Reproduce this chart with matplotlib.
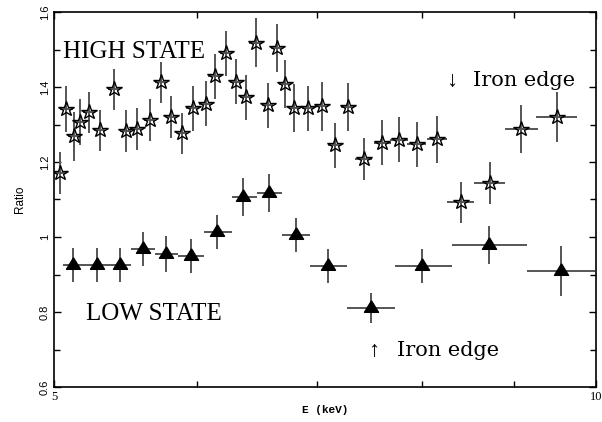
import numpy as np
import matplotlib.pyplot as plt
from matplotlib.ticker import FixedLocator, NullFormatter, FixedFormatter

# HIGH STATE (gwiazdki)
hi_e = [5.04, 5.08, 5.13, 5.17, 5.23, 5.30, 5.40, 5.48, 5.56, 5.65,
        5.73, 5.81, 5.89, 5.97, 6.07, 6.14, 6.23, 6.31, 6.39, 6.47,
        6.57, 6.65, 6.72, 6.80, 6.92, 7.04, 7.16, 7.28, 7.43, 7.61,
        7.77, 7.95, 8.16, 8.41, 8.73, 9.09, 9.51]
hi_r = [1.171, 1.341, 1.269, 1.307, 1.333, 1.285, 1.394, 1.283, 1.288, 1.312,
        1.413, 1.320, 1.277, 1.343, 1.355, 1.429, 1.490, 1.414, 1.373, 1.518,
        1.352, 1.504, 1.408, 1.344, 1.344, 1.349, 1.245, 1.347, 1.208, 1.251,
        1.259, 1.248, 1.261, 1.093, 1.144, 1.288, 1.320]
hi_dr = [0.057, 0.062, 0.065, 0.062, 0.055, 0.055, 0.055, 0.055, 0.055, 0.055,
         0.055, 0.055, 0.055, 0.060, 0.060, 0.060, 0.060, 0.060, 0.060, 0.065,
         0.060, 0.065, 0.065, 0.065, 0.060, 0.065, 0.060, 0.065, 0.055, 0.060,
         0.060, 0.060, 0.063, 0.055, 0.057, 0.064, 0.066]
hi_de = [0.04, 0.04, 0.04, 0.04, 0.04, 0.04, 0.04, 0.04, 0.04, 0.04,
         0.04, 0.04, 0.04, 0.05, 0.05, 0.05, 0.05, 0.05, 0.05, 0.05,
         0.05, 0.05, 0.05, 0.05, 0.05, 0.06, 0.06, 0.06, 0.08, 0.08,
         0.09, 0.10, 0.10, 0.15, 0.17, 0.19, 0.25]

# LOW STATE (trojkaty)
lo_e = [5.12, 5.28, 5.44, 5.60, 5.77, 5.96, 6.16, 6.37, 6.58, 6.81,
        7.10, 7.50, 8.01, 8.72, 9.56]
lo_emin = [5.06, 5.20, 5.36, 5.52, 5.69, 5.86, 6.06, 6.28, 6.48, 6.69,
           6.94, 7.27, 7.73, 8.32, 9.15]
lo_emax = [5.20, 5.36, 5.52, 5.69, 5.86, 6.06, 6.28, 6.48, 6.69, 6.94,
           7.27, 7.73, 8.32, 9.15, 9.99]
lo_r = [0.925, 0.925, 0.925, 0.968, 0.955, 0.949, 1.013, 1.107, 1.117, 1.005,
        0.923, 0.811, 0.923, 0.979, 0.909]
lo_dr = [0.045, 0.045, 0.045, 0.045, 0.048, 0.045, 0.045, 0.05, 0.05, 0.045,
         0.045, 0.04, 0.045, 0.05, 0.067]

fig = plt.figure(figsize=(6.02, 4.22), dpi=100)
ax = fig.add_axes([54/602, 1-387/422, 542/602, 375/422])

lo_xerr = [np.array(lo_e) - np.array(lo_emin), np.array(lo_emax) - np.array(lo_e)]

# trojkat ze srodkiem w centroidzie (jak w oryginale)
tri = [(0, 1), (-0.92, -0.5), (0.92, -0.5), (0, 1)]

ax.errorbar(hi_e, hi_r, yerr=hi_dr, xerr=hi_de, fmt='*', ms=11.5, mfc='none',
            mec='black', mew=1.0, ecolor='#555555', elinewidth=1.4, capsize=0)
ax.errorbar(lo_e, lo_r, yerr=lo_dr, xerr=lo_xerr, fmt='none',
            ecolor='#555555', elinewidth=1.4, capsize=0)
ax.plot(lo_e, lo_r, ls='none', marker=tri, ms=11, mfc='black', mec='black', zorder=3)

serif = ['Liberation Serif', 'DejaVu Serif']
ax.text(5.058, 1.477, 'HIGH STATE', family=serif, fontsize=18)
ax.text(5.21, 0.779, 'LOW STATE', family=serif, fontsize=18)
ax.text(8.26, 1.403, '\u2193', family=serif, fontsize=16)
ax.text(8.548, 1.403, 'Iron edge', family='DejaVu Serif', fontsize=15)
ax.text(7.47, 0.683, '\u2191', family=serif, fontsize=16)
ax.text(7.754, 0.683, 'Iron edge', family='DejaVu Serif', fontsize=15)

ax.set_xscale('log')
ax.set_xlim(5, 10)
ax.set_ylim(0.6, 1.6)
ax.xaxis.set_major_locator(FixedLocator([5, 10]))
ax.xaxis.set_major_formatter(FixedFormatter(['5', '10']))
ax.xaxis.set_minor_locator(FixedLocator([6, 7, 8, 9]))
ax.xaxis.set_minor_formatter(NullFormatter())
ax.set_yticks([0.6, 0.8, 1.0, 1.2, 1.4, 1.6])
ax.set_yticklabels(['0.6', '0.8', '1', '1.2', '1.4', '1.6'], rotation=90,
                   va='center', family='Liberation Sans', fontsize=8)
ax.set_yticks([0.7, 0.9, 1.1, 1.3, 1.5], minor=True)
for lab in ax.get_xticklabels():
    lab.set_family('Liberation Serif')
    lab.set_fontsize(9)

ax.tick_params(which='both', direction='in', top=True, right=True, width=1)
ax.tick_params(which='major', length=5, pad=3)
ax.tick_params(which='minor', length=4)
for s in ax.spines.values():
    s.set_linewidth(1.2)

ax.set_xlabel('E (keV)', family='Liberation Mono', fontsize=8, fontweight='bold', labelpad=1)
ax.set_ylabel('Ratio', family='Liberation Sans', fontsize=8.5, labelpad=10)

fig.savefig('out.png', dpi=100)
